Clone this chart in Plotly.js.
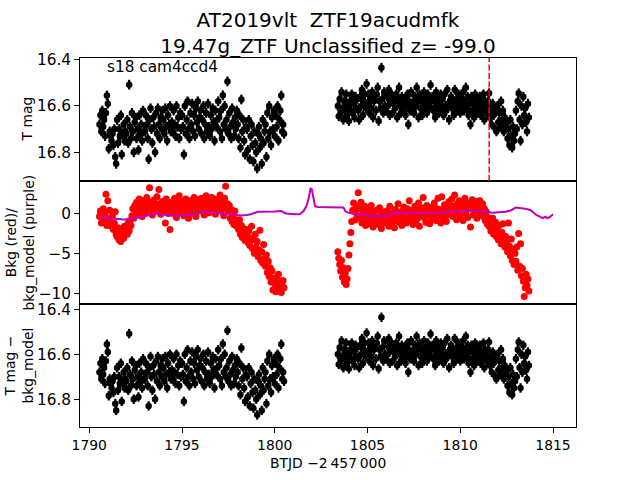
<!DOCTYPE html>
<html>
<head>
<meta charset="utf-8">
<script src="https://cdn.plot.ly/plotly-3.0.1.min.js"></script>
<style>html,body{margin:0;padding:0;background:#fff}</style>
</head>
<body>
<div id="plot" style="width:640px;height:480px"></div>
<script>
// first orbit (BTJD), T mag and bkg
const timeOrb1 = [
  1790.55,1790.60,1790.65,1790.70,1790.75,1790.80,1790.85,1790.90,1790.95,
  1791.00,1791.05,1791.10,1791.15,1791.20,1791.25,1791.30,1791.35,1791.40,1791.45,
  1791.50,1791.55,1791.60,1791.65,1791.70,1791.75,1791.80,1791.85,1791.90,1791.95,
  1792.00,1792.05,1792.10,1792.15,1792.20,1792.25,1792.30,1792.35,1792.40,1792.45,
  1792.50,1792.55,1792.60,1792.65,1792.70,1792.75,1792.80,1792.85,1792.90,1792.95,
  1793.00,1793.05,1793.10,1793.15,1793.20,1793.25,1793.30,1793.35,1793.40,1793.45,
  1793.50,1793.55,1793.60,1793.65,1793.70,1793.75,1793.80,1793.85,1793.90,1793.95,
  1794.00,1794.05,1794.10,1794.15,1794.20,1794.25,1794.30,1794.35,1794.40,1794.45,
  1794.50,1794.55,1794.60,1794.65,1794.70,1794.75,1794.80,1794.85,1794.90,1794.95,
  1795.00,1795.05,1795.10,1795.15,1795.20,1795.25,1795.30,1795.35,1795.40,1795.45,
  1795.50,1795.55,1795.60,1795.65,1795.70,1795.75,1795.80,1795.85,1795.90,1795.95,
  1796.00,1796.05,1796.10,1796.15,1796.20,1796.25,1796.30,1796.35,1796.40,1796.45,
  1796.50,1796.55,1796.60,1796.65,1796.70,1796.75,1796.80,1796.85,1796.90,1796.95,
  1797.00,1797.05,1797.10,1797.15,1797.20,1797.25,1797.30,1797.35,1797.40,1797.45,
  1797.50,1797.55,1797.60,1797.65,1797.70,1797.75,1797.80,1797.85,1797.90,1797.95,
  1798.00,1798.05,1798.10,1798.15,1798.20,1798.25,1798.30,1798.35,1798.40,1798.45,
  1798.50,1798.55,1798.60,1798.65,1798.70,1798.75,1798.80,1798.85,1798.90,1798.95,
  1799.00,1799.05,1799.10,1799.15,1799.20,1799.25,1799.30,1799.35,1799.40,1799.45,
  1799.50,1799.55,1799.60,1799.65,1799.70,1799.75,1799.80,1799.85,1799.90,1799.95,
  1800.00,1800.05,1800.10,1800.15,1800.20,1800.25,1800.30,1800.35,1800.40,1800.45,
  1800.50
];
const magOrb1 = [
  16.68,16.64,16.71,16.62,16.69,16.66,16.73,16.63,16.555,
  16.59,16.785,16.71,16.73,16.75,16.72,16.77,16.70,16.82,16.85,
  16.66,16.76,16.70,16.73,16.64,16.81,16.72,16.68,16.75,16.71,
  16.72,16.66,16.76,16.508,16.69,16.74,16.63,16.71,16.80,16.67,
  16.65,16.74,16.70,16.79,16.64,16.72,16.68,16.75,16.62,16.71,
  16.71,16.64,16.68,16.74,16.83,16.66,16.61,16.70,16.76,16.65,
  16.69,16.80,16.63,16.72,16.61,16.68,16.74,16.65,16.70,16.62,
  16.66,16.72,16.61,16.69,16.75,16.64,16.68,16.60,16.71,16.67,
  16.71,16.62,16.68,16.73,16.60,16.69,16.65,16.74,16.63,16.70,
  16.64,16.69,16.81,16.60,16.72,16.66,16.58,16.70,16.74,16.63,
  16.68,16.59,16.71,16.64,16.73,16.61,16.67,16.58,16.70,16.65,
  16.62,16.72,16.66,16.60,16.74,16.68,16.63,16.71,16.59,16.69,
  16.73,16.64,16.70,16.61,16.67,16.75,16.62,16.69,16.66,16.58,
  16.65,16.71,16.62,16.74,16.554,16.68,16.60,16.70,16.66,16.494,
  16.72,16.63,16.69,16.74,16.61,16.67,16.73,16.65,16.70,16.62,
  16.68,16.74,16.64,16.78,16.572,16.71,16.66,16.75,16.81,16.69,
  16.70,16.79,16.66,16.83,16.73,16.68,16.77,16.84,16.71,16.76,
  16.80,16.87,16.72,16.69,16.78,16.74,16.85,16.66,16.76,16.71,
  16.68,16.82,16.63,16.74,16.60,16.71,16.77,16.65,16.70,16.62,
  16.73,16.64,16.69,16.60,16.75,16.66,16.62,16.555,16.71,16.68,
  16.72
];
const bkgOrb1 = [
  -0.4,0.3,-1.2,-0.1,0.6,-0.8,0.1,2.4,-1.5,
  1.6,-0.6,0.4,-1.0,-1.6,-0.3,-2.0,-1.2,0.2,-2.6,
  -2.9,-1.8,-3.3,-2.4,-3.5,-2.0,-2.8,-3.1,-1.6,-2.5,
  -1.8,-2.6,-1.2,-2.2,-0.9,-1.5,-0.3,0.6,-0.6,1.0,
  0.4,1.4,0.0,0.9,1.8,0.3,1.2,-0.4,1.6,0.7,
  1.1,0.2,2.0,0.8,1.5,3.2,0.5,1.3,-0.2,0.9,
  1.7,0.4,1.0,2.1,0.6,3.0,1.2,-0.1,0.8,1.5,
  0.3,1.1,-1.2,1.8,0.6,0.0,1.4,-2.0,0.9,0.4,
  1.2,0.2,1.9,0.7,-0.5,1.4,0.5,2.2,0.1,1.0,
  0.6,1.5,-0.3,0.9,1.8,0.2,1.1,-0.6,1.6,0.4,
  1.3,0.0,0.8,2.0,0.5,-0.4,1.2,0.6,1.7,0.3,
  0.9,1.9,0.4,1.3,-0.2,1.0,2.2,0.6,1.5,0.1,
  1.4,0.7,2.0,0.3,1.1,1.8,-0.1,0.9,1.6,0.5,
  1.0,2.3,0.4,1.5,0.8,-0.3,1.9,3.4,0.6,1.2,
  0.2,1.0,-0.6,0.5,-1.0,-0.2,-1.4,0.3,-0.8,-1.6,
  -1.1,-2.0,-0.8,-2.6,-1.5,-3.0,-1.9,-2.4,-3.4,-2.0,
  -2.8,-3.6,-2.2,-4.0,-3.1,-1.6,-4.4,-3.3,-5.0,-2.6,
  -4.2,-3.5,-5.4,-4.6,-2.1,-5.9,-4.8,-6.2,-3.9,-5.6,
  -6.6,-5.2,-7.4,-6.0,-7.9,-6.8,-8.6,-7.2,-9.6,-8.1,
  -8.8,-9.8,-8.2,-9.2,-7.6,-9.5,-8.5,-9.9,-9.0,-8.4,
  -9.3
];

// second orbit
const timeOrb2 = [
  1803.40,1803.45,
  1803.50,1803.55,1803.60,1803.65,1803.70,1803.75,1803.80,1803.85,1803.90,1803.95,
  1804.00,1804.05,1804.10,1804.15,1804.20,1804.25,1804.30,1804.35,1804.40,1804.45,
  1804.50,1804.55,1804.60,1804.65,1804.70,1804.75,1804.80,1804.85,1804.90,1804.95,
  1805.00,1805.05,1805.10,1805.15,1805.20,1805.25,1805.30,1805.35,1805.40,1805.45,
  1805.50,1805.55,1805.60,1805.65,1805.70,1805.75,1805.80,1805.85,1805.90,1805.95,
  1806.00,1806.05,1806.10,1806.15,1806.20,1806.25,1806.30,1806.35,1806.40,1806.45,
  1806.50,1806.55,1806.60,1806.65,1806.70,1806.75,1806.80,1806.85,1806.90,1806.95,
  1807.00,1807.05,1807.10,1807.15,1807.20,1807.25,1807.30,1807.35,1807.40,1807.45,
  1807.50,1807.55,1807.60,1807.65,1807.70,1807.75,1807.80,1807.85,1807.90,1807.95,
  1808.00,1808.05,1808.10,1808.15,1808.20,1808.25,1808.30,1808.35,1808.40,1808.45,
  1808.50,1808.55,1808.60,1808.65,1808.70,1808.75,1808.80,1808.85,1808.90,1808.95,
  1809.00,1809.05,1809.10,1809.15,1809.20,1809.25,1809.30,1809.35,1809.40,1809.45,
  1809.50,1809.55,1809.60,1809.65,1809.70,1809.75,1809.80,1809.85,1809.90,1809.95,
  1810.00,1810.05,1810.10,1810.15,1810.20,1810.25,1810.30,1810.35,1810.40,1810.45,
  1810.50,1810.55,1810.60,1810.65,1810.70,1810.75,1810.80,1810.85,1810.90,1810.95,
  1811.00,1811.05,1811.10,1811.15,1811.20,1811.25,1811.30,1811.35,1811.40,1811.45,
  1811.50,1811.55,1811.60,1811.65,1811.70,1811.75,1811.80,1811.85,1811.90,1811.95,
  1812.00,1812.05,1812.10,1812.15,1812.20,1812.25,1812.30,1812.35,1812.40,1812.45,
  1812.50,1812.55,1812.60,1812.65,1812.70,1812.75,1812.80,1812.85,1812.90,1812.95,
  1813.00,1813.05,1813.10,1813.15,1813.20,1813.25,1813.30,1813.35,1813.40,1813.45,
  1813.50,1813.55,1813.60,1813.65,1813.70
];
const magOrb2 = [
  16.60,16.645,
  16.57,16.63,16.54,16.61,16.66,16.58,16.62,16.55,16.64,16.60,
  16.665,16.58,16.62,16.55,16.63,16.59,16.65,16.56,16.61,16.57,
  16.62,16.66,16.56,16.60,16.53,16.64,16.58,16.55,16.61,16.505,
  16.59,16.55,16.63,16.57,16.61,16.54,16.65,16.58,16.56,16.62,
  16.55,16.52,16.665,16.58,16.61,16.435,16.57,16.63,16.54,16.60,
  16.62,16.56,16.60,16.53,16.64,16.58,16.55,16.63,16.59,16.57,
  16.61,16.55,16.65,16.58,16.52,16.60,16.63,16.56,16.59,16.62,
  16.57,16.64,16.60,16.55,16.68,16.58,16.62,16.54,16.61,16.59,
  16.63,16.56,16.60,16.52,16.58,16.65,16.55,16.61,16.57,16.64,
  16.59,16.54,16.62,16.57,16.63,16.55,16.60,16.58,16.51,16.61,
  16.56,16.62,16.58,16.65,16.54,16.60,16.57,16.63,16.59,16.55,
  16.61,16.57,16.64,16.55,16.60,16.62,16.53,16.59,16.66,16.58,
  16.56,16.61,16.58,16.64,16.53,16.60,16.57,16.62,16.55,16.59,
  16.63,16.57,16.60,16.54,16.62,16.58,16.52,16.61,16.56,16.64,
  16.59,16.68,16.56,16.62,16.58,16.65,16.55,16.60,16.63,16.57,
  16.61,16.56,16.64,16.59,16.62,16.55,16.66,16.58,16.60,16.63,
  16.58,16.545,16.65,16.61,16.68,16.59,16.64,16.62,16.70,16.71,
  16.60,16.67,16.63,16.69,16.58,16.66,16.62,16.71,16.65,16.68,
  16.67,16.74,16.70,16.77,16.66,16.73,16.78,16.69,16.75,16.72,
  16.62,16.70,16.58,16.545,16.66,16.75,16.60,16.68,16.56,16.64,
  16.61,16.67,16.71,16.59,16.65
];
const bkgOrb2 = [
  -4.8,-5.6,
  -6.4,-7.2,-5.9,-8.0,-6.8,-8.6,-7.5,-8.9,-8.2,-6.9,
  -5.2,-3.8,-2.4,-1.0,0.4,1.3,0.2,-0.8,0.9,-0.3,
  2.6,0.6,-0.5,1.4,-1.2,0.2,-0.7,0.9,-1.5,0.1,
  -0.6,0.5,-1.3,-0.2,1.0,-0.9,-1.7,0.3,-0.4,-1.1,
  0.4,-0.8,-1.4,0.7,-0.3,-1.9,-0.6,0.2,-1.2,-0.5,
  -1.0,0.3,-0.4,-1.6,0.9,-0.7,-1.3,0.1,-0.2,-1.8,
  0.5,-0.9,-0.3,1.2,-1.1,-0.5,0.2,-1.5,-0.1,0.8,
  -0.7,0.1,-1.2,0.6,-0.4,1.6,-0.9,-0.2,0.4,-1.4,
  -0.3,0.9,-1.0,0.2,-0.6,1.3,-1.6,0.5,-0.2,0.7,
  2.0,-0.5,0.4,-1.1,1.0,-0.2,0.6,-1.3,0.3,-0.7,
  0.8,-0.4,1.3,0.0,-0.9,0.6,1.9,-0.3,0.5,-1.2,
  2.1,0.2,-0.6,1.1,0.4,-1.0,0.9,-0.2,1.5,0.0,
  0.6,1.8,-0.4,0.9,2.3,0.1,-0.8,1.2,0.4,1.6,
  -0.3,0.8,1.4,-0.9,0.5,1.9,0.0,1.1,-0.5,0.7,
  1.3,-1.7,0.6,1.7,-0.2,0.9,0.3,1.5,-0.6,1.0,
  0.4,1.6,-0.1,0.8,1.2,-0.4,0.6,-0.9,0.2,-1.3,
  -0.5,-1.6,-0.9,-2.2,-1.3,-0.6,-2.6,-1.8,-1.1,-2.9,
  -2.1,-3.3,-1.5,-2.8,-3.8,-2.4,-1.3,-3.5,-4.2,-2.9,
  -3.6,-4.8,-1.2,-4.1,-5.3,-3.2,-5.9,-4.5,-6.4,-5.0,
  -6.0,-4.2,-7.1,-2.5,-6.6,-3.8,-7.8,-6.9,-8.5,-10.4,
  -9.3,-7.6,-9.0,-8.2,-9.7
];

// bkg_model (purple line)
const modelTime = [1790.55,1790.8,1791.1,1791.4,1791.7,1791.9,1792.2,1792.5,1792.8,1793.1,
  1793.5,1793.8,1794.1,1794.6,1795.1,1795.4,1795.7,1796.2,1796.7,1797.0,
  1797.3,1797.8,1798.2,1798.5,1798.7,1799.1,1799.5,1800.0,1800.35,1800.6,
  1801.05,1801.35,1801.55,1801.7,1801.82,1801.93,1802.0,1802.08,1802.17,1802.3,
  1803.0,1803.7,1803.8,1803.95,1804.2,1804.5,1804.74,1805.1,1805.46,1806.0,
  1806.54,1807.1,1807.6,1808.3,1808.8,1809.2,1809.7,1810.1,1810.7,1811.2,
  1811.75,1812.1,1812.45,1812.75,1813.0,1813.5,1813.8,1814.1,1814.45,1814.6,
  1814.7,1814.8,1815.0];
const modelBkg = [-0.5,-0.55,-0.6,-0.65,-0.7,-0.75,-0.7,-0.6,-0.45,-0.3,
  0.0,-0.1,-0.15,-0.35,-0.25,-0.2,-0.1,0.2,0.1,0.05,
  0.0,-0.1,-0.25,-0.2,-0.1,0.2,0.2,0.25,0.3,0.0,
  -0.1,-0.1,0.3,0.9,1.8,3.1,3.0,1.9,0.9,0.8,
  0.75,0.75,0.3,0.1,0.0,-0.1,-0.2,-0.3,-0.4,-0.3,
  0.1,0.05,0.0,0.0,0.1,0.2,0.25,0.3,0.35,0.3,
  0.1,0.15,0.2,0.4,0.75,0.6,0.4,-0.2,-0.6,-0.4,
  -0.6,-0.5,-0.1];

const discoveryTime = 1811.56;
const timeTicks = [1790, 1795, 1800, 1805, 1810, 1815];
const magTicks = [16.4, 16.6, 16.8];
const bkgTicks = [-10, -5, 0];

const times = timeOrb1.concat(timeOrb2);
const mags = magOrb1.concat(magOrb2);
const bkgs = bkgOrb1.concat(bkgOrb2);

const errBar = {type: "constant", value: 0.021, thickness: 2.2, width: 0, color: "#000"};

const traces = [
  {
    x: times, y: mags, xaxis: "x3", yaxis: "y3",
    type: "scatter", mode: "markers",
    marker: {color: "#000", size: 6.5},
    error_y: errBar,
  },
  {
    x: times, y: bkgs, xaxis: "x2", yaxis: "y2",
    type: "scatter", mode: "markers",
    marker: {color: "#ff0000", size: 7},
  },
  {
    x: modelTime, y: modelBkg, xaxis: "x2", yaxis: "y2",
    type: "scatter", mode: "lines",
    line: {color: "#bf00bf", width: 2},
  },
  {
    // T mag - bkg_model, same as top panel within the picture
    x: times, y: mags, xaxis: "x", yaxis: "y",
    type: "scatter", mode: "markers",
    marker: {color: "#000", size: 6.5},
    error_y: errBar,
  },
];

const frame = {
  showline: true, mirror: true, linecolor: "#000", linewidth: 1,
  showgrid: false, zeroline: false,
};
const tickStyle = {ticks: "outside", ticklen: 4.9, tickwidth: 1.1, tickcolor: "#000"};
const yTickFont = {size: 15.3};
const xRange = [1789.5, 1816.24];

const layout = {
  width: 640,
  height: 480,
  margin: {l: 80, r: 64, t: 58, b: 53},
  paper_bgcolor: "#fff",
  plot_bgcolor: "#fff",
  showlegend: false,
  font: {family: "DejaVu Sans, sans-serif", size: 13.9, color: "#000"},
  title: {
    text: "AT2019vlt\u00a0 ZTF19acudmfk<br>19.47g_ZTF Unclassified z= -99.0",
    font: {size: 20},
    xref: "paper", x: 0.5, xanchor: "center",
    yref: "container", y: 1 - 27 / 480, yanchor: "middle",
  },
  xaxis: {...frame, ...tickStyle, anchor: "y", range: xRange, tickvals: timeTicks},
  xaxis2: {...frame, anchor: "y2", matches: "x", range: xRange, showticklabels: false, ticks: ""},
  xaxis3: {...frame, anchor: "y3", matches: "x", range: xRange, showticklabels: false, ticks: ""},
  yaxis: {...frame, ...tickStyle, anchor: "x", domain: [0, 1 / 3], range: [16.924, 16.376],
    tickvals: magTicks, tickfont: yTickFont},
  yaxis2: {...frame, ...tickStyle, anchor: "x2", domain: [1 / 3, 2 / 3], range: [-11.34, 4.06],
    tickvals: bkgTicks, tickfont: yTickFont},
  yaxis3: {...frame, ...tickStyle, anchor: "x3", domain: [2 / 3, 1], range: [16.924, 16.393],
    tickvals: magTicks, tickfont: yTickFont},
  shapes: [
    {
      type: "line", xref: "x3", yref: "y3 domain",
      x0: discoveryTime, x1: discoveryTime, y0: 0, y1: 1,
      line: {color: "#ff0000", width: 1.5, dash: "6px,2.5px"},
    },
  ],
  annotations: [
    {
      text: "s18 cam4ccd4", xref: "x3 domain", yref: "y3 domain",
      x: 0.05, y: 0.93, xanchor: "left", yanchor: "middle",
      showarrow: false, font: {size: 15.3},
    },
    {
      text: "T mag", textangle: -90, xref: "paper", yref: "y3 domain",
      x: (26 - 80) / 496, y: 0.5, xanchor: "center", yanchor: "middle", showarrow: false,
    },
    {
      text: "Bkg (red)/<br>bkg_model (purple)", textangle: -90, xref: "paper", yref: "y2 domain",
      x: (19 - 80) / 496, y: 0.5, xanchor: "center", yanchor: "middle", showarrow: false,
    },
    {
      text: "T mag \u2212<br>bkg_model", textangle: -90, xref: "paper", yref: "y domain",
      x: (18 - 80) / 496, y: 0.5, xanchor: "center", yanchor: "middle", showarrow: false,
    },
    {
      text: "BTJD \u22122\u2009457\u2009000", xref: "paper", yref: "paper",
      x: 0.5, y: -(463 - 427) / 369, xanchor: "center", yanchor: "middle", showarrow: false,
    },
  ],
};

Plotly.newPlot("plot", traces, layout, {displayModeBar: false, responsive: false});
</script>
</body>
</html>
